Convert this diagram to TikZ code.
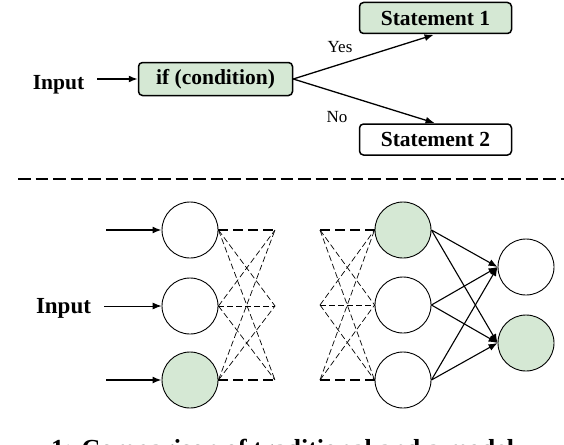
\documentclass[tikz,border=0pt]{standalone}
\usepackage{fontspec}
\setmainfont{Liberation Serif}
\usetikzlibrary{arrows.meta}
\definecolor{ngreen}{RGB}{213,232,212}
\begin{document}
\begin{tikzpicture}[x=1pt,y=-1pt,
  bigtext/.style={font=\bfseries\fontsize{21.5}{24}\selectfont},
  lbltext/.style={font=\fontsize{17}{19}\selectfont, inner sep=0},
  stmt/.style={draw, rounded corners=4pt, line width=1.5pt, minimum width=152pt, minimum height=31pt, inner sep=0, bigtext},
  neuron/.style={circle, draw, line width=0.9pt, minimum size=56pt, inner sep=0},
  tip/.style={-{Latex[length=9pt,width=7pt]}},
  fatarrow/.style={tip, line width=1.6pt},
  slimarrow/.style={tip, line width=0.9pt},
  fatdash/.style={line width=1.5pt, dash pattern=on 10pt off 5pt},
  slimdash/.style={line width=0.7pt, dash pattern=on 6pt off 3pt},
  sep/.style={line width=1.5pt, dash pattern=on 12.5pt off 5pt}]
\useasboundingbox (0,0) rectangle (564,444);

% ---------- top: rule-based ----------
\node[bigtext, anchor=base, inner sep=0] (in1) at (58.5,89) {Input};
\node[stmt, fill=ngreen, minimum width=154pt, minimum height=33pt] (ifb) at (215.5,79) {if (condition)};
\node[stmt, fill=ngreen] (st1) at (435.5,18) {Statement 1};
\node[stmt, fill=white] (st2) at (435.5,139.5) {Statement 2};
\draw[fatarrow, shorten <=13pt] (in1.east |- ifb.west) -- (ifb.west);
\draw[fatarrow, line width=1.3pt, shorten >=2pt] (ifb.east) -- (st1.south);
\draw[fatarrow, line width=1.3pt, shorten >=1pt] (ifb.east) -- (st2.north);
\node[lbltext] (yes) at (340,47) {Yes};
\node[lbltext] (no) at (337,117) {No};

% ---------- separator ----------
\coordinate (sepA) at (18,179);
\coordinate (sepB) at (566,179);
\draw[sep] (sepA) -- (sepB);

% ---------- bottom: neural network ----------
\node[neuron] (L1) at (190,230) {};
\node[neuron] (L2) at (190,306) {};
\node[neuron, fill=ngreen] (L3) at (190,380) {};
\node[neuron, fill=ngreen] (M1) at (403,230) {};
\node[neuron] (M2) at (403,305) {};
\node[neuron] (M3) at (403,380) {};
\node[neuron] (O1) at (526,267) {};
\node[neuron, fill=ngreen] (O2) at (526,343) {};

\coordinate (a1) at (275,230);
\coordinate (a2) at (275,306);
\coordinate (a3) at (275,380);
\coordinate (b1) at (320,230);
\coordinate (b2) at (320,305);
\coordinate (b3) at (320,380);

% inputs
\coordinate (s1) at (106,230);
\coordinate (s3) at (106,380);
\node[font=\bfseries\fontsize{23}{26}\selectfont, anchor=base, inner sep=0] (in2) at (63.5,313) {Input};
\draw[fatarrow] (s1) -- (L1.west);
\draw[fatarrow] (s3) -- (L3.west);
\draw[slimarrow, shorten <=13pt] (in2.east |- L2.west) -- (L2.west);

% dashed connections, left group
\draw[fatdash] (L1.east) -- (a1);
\draw[fatdash] (L3.east) -- (a3);
\draw[slimdash] (L2.east) -- (a2);
\draw[slimdash] (L1.east) -- (a2);
\draw[slimdash] (L1.east) -- (a3);
\draw[slimdash] (L2.east) -- (a1);
\draw[slimdash] (L2.east) -- (a3);
\draw[slimdash] (L3.east) -- (a1);
\draw[slimdash] (L3.east) -- (a2);

% dashed connections, right group
\draw[fatdash] (b1) -- (M1.west);
\draw[fatdash] (b3) -- (M3.west);
\draw[slimdash] (b2) -- (M2.west);
\draw[slimdash] (b1) -- (M2.west);
\draw[slimdash] (b1) -- (M3.west);
\draw[slimdash] (b2) -- (M1.west);
\draw[slimdash] (b2) -- (M3.west);
\draw[slimdash] (b3) -- (M1.west);
\draw[slimdash] (b3) -- (M2.west);

% solid connections to outputs
\foreach \m in {M1,M2,M3}{
  \foreach \o in {O1,O2}{
    \draw[tip, line width=1.1pt] (\m.east) -- (\o.west);
  }
}

% ---------- caption (cut off at the bottom edge, as in the reference) ----------
\begin{scope}
\clip (0,0) rectangle (564,444);
\node[font=\bfseries\fontsize{26}{28}\selectfont, anchor=base west, inner sep=0] (cap) at (51,457) {1: Comparison of traditional and a model};
\end{scope}
\end{tikzpicture}
\end{document}
